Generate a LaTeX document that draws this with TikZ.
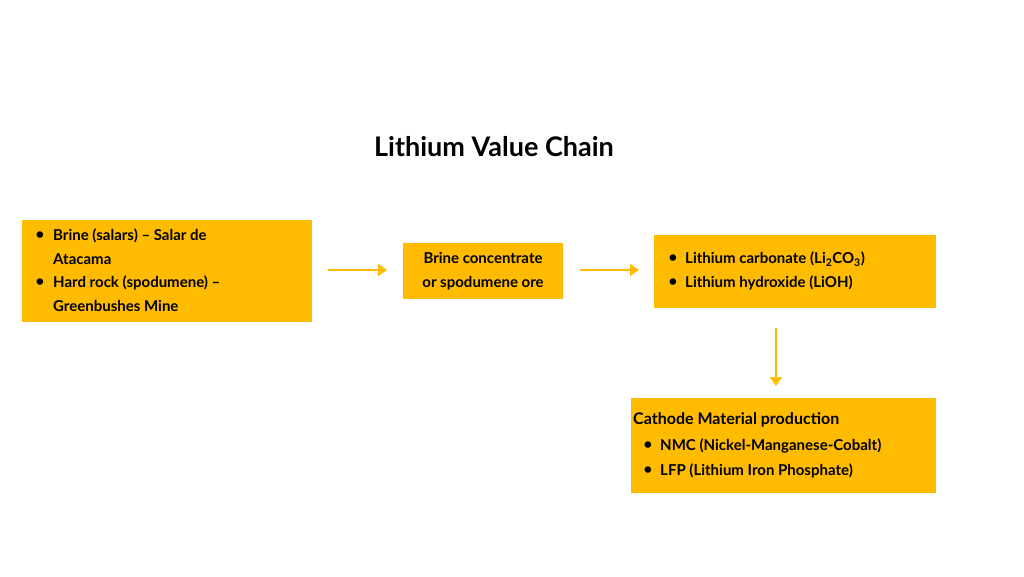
\documentclass[tikz,border=0pt]{standalone}
\usepackage{fontspec}
\setmainfont{Lato}
\usetikzlibrary{arrows.meta}
\definecolor{amber}{HTML}{FFBB00}
\begin{document}
\begin{tikzpicture}[x=1pt,y=-1pt,
  box/.style={fill=amber,draw=none,inner sep=0pt},
  txt/.style={anchor=west,inner sep=0pt,font=\fontsize{15}{18}\bfseries\selectfont},
  bul/.style={anchor=center,inner sep=0pt,font=\fontsize{15}{18}\bfseries\selectfont},
  arr/.style={amber,line width=2.5pt,-{Triangle[length=9pt,width=12pt]}}]
\useasboundingbox (0,0) rectangle (1024,576);
\fill[white] (0,0) rectangle (1024,576);
\node[inner sep=0pt,font=\fontsize{27}{30}\bfseries\selectfont] (title) at (494,147) {Lithium Value Chain};
\node[box,minimum width=290pt,minimum height=102pt] (b1) at (167,271) {};
\node[box,minimum width=160pt,minimum height=56pt] (b2) at (483,271) {};
\node[box,minimum width=282pt,minimum height=73pt] (b3) at (795,271.5) {};
\node[box,minimum width=305pt,minimum height=95pt] (b4) at (783.5,445.5) {};
% box 1
\node[bul] (b1a) at (40,236) {•}; \node[txt] (t1a) at (53,236) {Brine (salars) – Salar de};
\node[txt] (t1b) at (53,259) {Atacama};
\node[bul] (b1c) at (40,283) {•}; \node[txt] (t1c) at (53,283) {Hard rock (spodumene) –};
\node[txt] (t1d) at (53,306) {Greenbushes Mine};
% box 2
\node[inner sep=0pt,align=center,font=\fontsize{15}{24}\bfseries\selectfont] (t2) at (483,271) {Brine concentrate\\or spodumene ore};
% box 3
\node[bul] (b3a) at (673,259) {•}; \node[txt] (t3a) at (685,259) {Lithium carbonate (Li\textsubscript{2}CO\textsubscript{3})};
\node[bul] (b3b) at (673,283) {•}; \node[txt] (t3b) at (685,283) {Lithium hydroxide (LiOH)};
% box 4
\node[txt,font=\fontsize{16}{18}\bfseries\selectfont] (t4) at (633,420) {Cathode Material production};
\node[bul] (b4a) at (648,446) {•}; \node[txt] (t4a) at (660,446) {NMC (Nickel-Manganese-Cobalt)};
\node[bul] (b4b) at (648,471) {•}; \node[txt] (t4b) at (660,471) {LFP (Lithium Iron Phosphate)};
% arrows
\coordinate (a1s) at (328,270); \coordinate (a1e) at (387,270);
\coordinate (a2s) at (580,270); \coordinate (a2e) at (639,270);
\coordinate (a3s) at (776,328); \coordinate (a3e) at (776,386);
\draw[arr] (a1s) -- (a1e);
\draw[arr] (a2s) -- (a2e);
\draw[arr] (a3s) -- (a3e);
\end{tikzpicture}
\end{document}
